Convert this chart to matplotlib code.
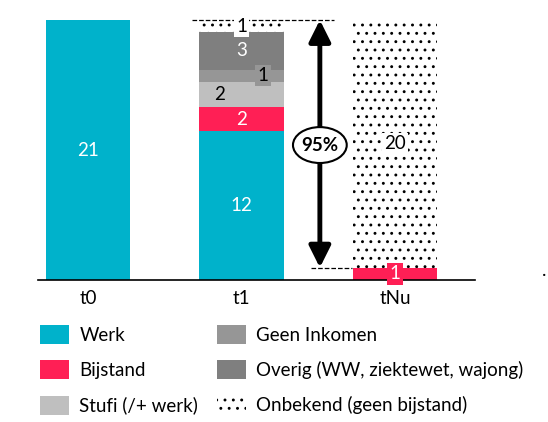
import matplotlib.pyplot as plt
from matplotlib.patches import Patch, Ellipse

plt.rcParams['font.family'] = ['Lato', 'DejaVu Sans']
plt.rcParams['hatch.linewidth'] = 0.9

# data
periods = ['t0', 't1', 'tNu']
categories = ['Werk', 'Bijstand', 'Stufi (/+ werk)', 'Geen Inkomen',
              'Overig (WW, ziektewet, wajong)', 'Onbekend (geen bijstand)']
values = {
    'Werk':                           [21, 12, 0],
    'Bijstand':                       [0, 2, 1],
    'Stufi (/+ werk)':                [0, 2, 0],
    'Geen Inkomen':                   [0, 1, 0],
    'Overig (WW, ziektewet, wajong)': [0, 3, 0],
    'Onbekend (geen bijstand)':       [0, 1, 20],
}
share_label = '95%'

colors = {
    'Werk': '#00B2CB',
    'Bijstand': '#FF1F55',
    'Stufi (/+ werk)': '#BFBFBF',
    'Geen Inkomen': '#969696',
    'Overig (WW, ziektewet, wajong)': '#7F7F7F',
    'Onbekend (geen bijstand)': 'white',
}
# label style per segment: (text colour, x offset, box colour)
label_style = {
    'Werk': ('white', 0, None),
    'Bijstand': ('white', 0, 'same'),
    'Stufi (/+ werk)': ('black', -0.14, None),
    'Geen Inkomen': ('black', 0.14, 'same'),
    'Overig (WW, ziektewet, wajong)': ('white', 0, None),
    'Onbekend (geen bijstand)': ('black', 0, 'white'),
}
FS = 13.5
HATCH = '..'

fig = plt.figure(figsize=(5.48, 4.22), dpi=100)
ax = fig.add_axes([38 / 548, 142 / 422, 437 / 548, 275 / 422])
x = range(len(periods))
width = 0.55

bottoms = [0] * len(periods)
for cat in categories:
    vals = values[cat]
    if cat == 'Onbekend (geen bijstand)':
        ax.bar(x, vals, width, bottom=bottoms, color='white', edgecolor='black',
               hatch=HATCH, linewidth=0)
    else:
        ax.bar(x, vals, width, bottom=bottoms, color=colors[cat], linewidth=0)
    tc, dx, box = label_style[cat]
    for i, v in enumerate(vals):
        if v == 0:
            continue
        yc = bottoms[i] + v / 2
        bbox = None
        fc = colors[cat] if box == 'same' else box
        if box is not None:
            bbox = dict(boxstyle='square,pad=0.12', fc=fc, ec='none')
        if cat == 'Onbekend (geen bijstand)' and v > 5:
            bbox = dict(boxstyle='square,pad=0.1', fc='white', ec='none')
            tc = 'black'
        ax.text(i + dx, yc, str(v), ha='center', va='center', color=tc,
                fontsize=FS, bbox=bbox)
    bottoms = [b + v for b, v in zip(bottoms, vals)]

total = bottoms[0]
base_tnu = values['Bijstand'][2]

# dashed guides and double arrow
ax.plot([0.68, 1.6], [total, total], ls='--', color='black', lw=0.9)
ax.plot([1.45, 1.72], [base_tnu, base_tnu], ls='--', color='black', lw=0.9)
ax.annotate('', xy=(1.51, base_tnu), xytext=(1.51, total),
            arrowprops=dict(arrowstyle='<|-|>,head_length=1.3,head_width=0.65',
                            color='black', lw=3.5, shrinkA=0, shrinkB=0))
ax.add_patch(Ellipse((1.51, 10.9), 0.35, 2.9, fc='white', ec='black', lw=1.5, zorder=5))
ax.text(1.51, 10.9, share_label, ha='center', va='center', fontsize=FS,
        fontweight='bold', zorder=6)

ax.set_xlim(-0.325, 2.52)
ax.set_ylim(0, 275 / 12.38)
ax.set_xticks(list(x))
ax.set_xticklabels(periods, fontsize=FS)
ax.tick_params(axis='x', length=0, pad=7)
ax.set_yticks([])
for s in ['top', 'right', 'left']:
    ax.spines[s].set_visible(False)
ax.spines['bottom'].set_linewidth(1.2)

handles = []
for cat in categories:
    if cat == 'Onbekend (geen bijstand)':
        handles.append(Patch(fc='white', ec='black', hatch=HATCH, lw=0, label=cat))
    else:
        handles.append(Patch(fc=colors[cat], lw=0, label=cat))

leg_kw = dict(loc='upper left', ncol=1, frameon=False, fontsize=FS,
              handlelength=1.55, handleheight=1.17, labelspacing=0.88,
              handletextpad=0.55, borderaxespad=0, borderpad=0)
fig.legend(handles[:3], categories[:3],
           bbox_to_anchor=(40 / 548, 1 - 325 / 422), **leg_kw)
fig.legend(handles[3:], categories[3:],
           bbox_to_anchor=(217 / 548, 1 - 325 / 422), **leg_kw)

fig.text(546 / 548, 1 - 270 / 422, '.', ha='right', va='center', fontsize=FS)

fig.savefig('out.png', dpi=100)
